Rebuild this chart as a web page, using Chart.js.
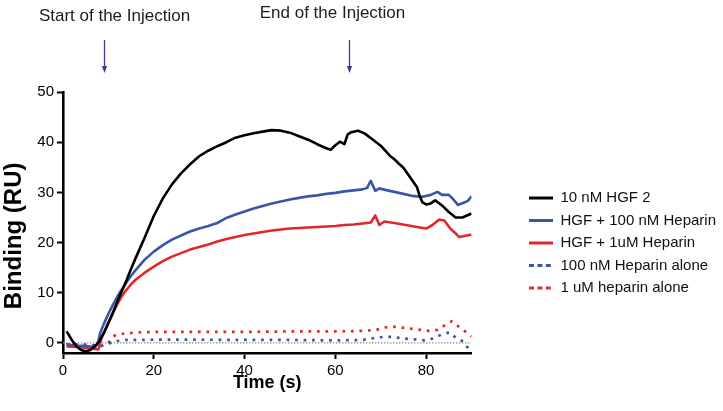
<!DOCTYPE html>
<html>
<head>
<meta charset="utf-8">
<script src="https://cdn.jsdelivr.net/npm/chart.js@4"></script>
<style>
  html, body { margin: 0; padding: 0; background: #ffffff; }
  #wrap { width: 723px; height: 411px; position: relative; }
</style>
</head>
<body>
<div id="wrap"><canvas id="c" width="723" height="411"></canvas></div>
<script>
// ---------- data ----------
const seriesNames = ['10 nM HGF 2', 'HGF + 100 nM Heparin', 'HGF + 1uM Heparin', '100 nM Heparin alone', '1 uM heparin alone'];

const hgfTime   = [0.8, 2, 3, 4, 5, 6, 7, 8, 9, 10, 11, 12, 13, 14, 15, 16, 18, 20, 22, 24, 26, 28, 30, 32, 34, 36, 38, 40, 42, 44, 46, 48, 50, 52, 54, 56, 58, 59, 60, 61, 62, 62.7, 63.5, 65, 66.5, 68, 70, 72, 73, 74, 75, 76, 77, 78, 78.5, 79.2, 80, 81, 82, 83.5, 85, 86.5, 88, 90];
const hgfValues = [2.3, 0.5, -0.7, -1.4, -1.7, -1.4, -0.7, 0.3, 2.0, 4.0, 6.0, 8.3, 10.4, 12.5, 14.8, 16.9, 21.0, 25.3, 28.8, 31.6, 33.8, 35.6, 37.2, 38.3, 39.2, 40.0, 40.9, 41.4, 41.8, 42.1, 42.4, 42.3, 41.9, 41.2, 40.5, 39.6, 38.8, 38.5, 39.4, 40.1, 39.6, 41.5, 42.0, 42.3, 41.7, 40.7, 39.3, 37.3, 36.6, 35.7, 34.9, 33.6, 32.3, 31.0, 29.5, 28.0, 27.6, 27.8, 28.4, 27.4, 26.1, 25.0, 25.0, 25.8];

const hep100Time   = [0.8, 3, 5, 7, 7.6, 8.2, 9, 10, 11, 12, 13, 14, 15, 16, 18, 20, 22, 24, 26, 28, 30, 32, 34, 36, 38, 40, 42, 44, 46, 48, 50, 52, 54, 56, 58, 60, 62, 64, 66, 67, 67.8, 68.8, 69.7, 71, 73, 75, 77, 79, 81, 82.5, 83.5, 85, 86, 87, 88.4, 89.2, 90];
const hep100Values = [-0.3, -0.5, -0.6, -0.8, -0.3, 2.0, 3.8, 5.8, 7.6, 9.3, 10.7, 12.1, 13.4, 14.5, 16.6, 18.2, 19.5, 20.6, 21.4, 22.2, 22.8, 23.3, 23.9, 24.9, 25.6, 26.2, 26.8, 27.3, 27.8, 28.2, 28.6, 28.9, 29.2, 29.4, 29.7, 29.9, 30.2, 30.4, 30.6, 30.9, 32.3, 30.3, 30.8, 30.5, 30.1, 29.7, 29.3, 29.1, 29.5, 30.1, 29.5, 29.5, 28.6, 27.5, 28.0, 28.3, 29.2];

const hep1uTime   = [0.8, 3, 5, 7, 7.8, 8.5, 9, 10, 11, 12, 13, 14, 15, 16, 18, 20, 22, 24, 26, 28, 30, 32, 34, 36, 38, 40, 42, 44, 46, 48, 50, 52, 54, 56, 58, 60, 62, 64, 66, 67.8, 68.8, 69.7, 70.8, 73, 75.5, 78, 80, 81.4, 82.9, 84, 85.4, 86.3, 87.3, 88.4, 90];
const hep1uValues = [-0.7, -0.8, -1.0, -1.2, -1.3, 1.0, 2.0, 4.0, 6.0, 7.8, 9.4, 10.6, 11.7, 12.6, 14.0, 15.2, 16.3, 17.2, 17.9, 18.6, 19.1, 19.6, 20.2, 20.7, 21.1, 21.5, 21.8, 22.1, 22.4, 22.6, 22.8, 22.9, 23.0, 23.1, 23.2, 23.3, 23.5, 23.6, 23.8, 24.0, 25.4, 23.5, 24.2, 23.9, 23.5, 23.1, 22.8, 23.5, 24.6, 24.4, 22.7, 22.0, 21.1, 21.3, 21.6];

const hepAlone100Time   = [0.8, 5, 8.5, 10, 11, 14, 20, 30, 40, 50, 60, 66, 68.7, 70.5, 72.3, 74.2, 76, 77.8, 79.7, 81.5, 83.7, 85.2, 86.7, 88.2, 89.3];
const hepAlone100Values = [-0.3, -0.4, -0.6, -0.2, 0.3, 0.6, 0.65, 0.65, 0.6, 0.6, 0.5, 0.6, 1.0, 1.2, 1.2, 1.0, 0.8, 0.7, 0.5, 0.9, 1.8, 2.1, 0.9, 0.3, -1.1];

const hepAlone1uTime   = [0.8, 3, 5, 7, 8.5, 10, 11, 12, 14, 16, 20, 30, 40, 50, 60, 66, 69, 71.5, 73.3, 75.1, 77, 78.8, 80.6, 82.5, 83.9, 85.6, 87.1, 88.6, 90];
const hepAlone1uValues = [-0.3, -0.4, -0.4, -0.5, -0.6, 0.0, 1.3, 1.7, 1.9, 2.1, 2.2, 2.2, 2.2, 2.3, 2.3, 2.4, 2.6, 3.2, 3.2, 3.0, 2.8, 2.6, 2.4, 2.6, 3.4, 4.3, 3.3, 2.3, 1.3];

const baselineTime   = [0, 90];
const baselineValues = [0, 0];

const xTickValues = [0, 20, 40, 60, 80];
const yTickValues = [0, 10, 20, 30, 40, 50];

const injectionTimes  = [9, 63];
const injectionLabels = ['Start of the Injection', 'End of the Injection'];

// ---------- helpers ----------
const pts = (xs, ys) => xs.map((x, i) => ({ x: x, y: ys[i] }));
const FONT = '"Liberation Sans", Arial, Helvetica, sans-serif';
Chart.defaults.font.family = FONT;
Chart.defaults.color = '#000';

const BLACK = '#000000', BLUE = '#3a56a6', RED = '#e3262c';

const injectionPlugin = {
  id: 'injectionMarks',
  afterDraw(chart, args, opts) {
    const ctx = chart.ctx;
    const xs = chart.scales.x;
    injectionTimes.forEach((t, i) => {
      const px = Math.round(xs.getPixelForValue(t)) + 0.5;
      ctx.save();
      ctx.font = '17px ' + FONT;
      ctx.fillStyle = '#1c1c1c';
      ctx.textAlign = 'center';
      ctx.textBaseline = 'alphabetic';
      ctx.fillText(injectionLabels[i], px + opts.textOffsets[i], opts.textBaselines[i]);
      ctx.strokeStyle = '#3c3c8c';
      ctx.lineWidth = 1.3;
      ctx.beginPath();
      ctx.moveTo(px, 40);
      ctx.lineTo(px, 68);
      ctx.stroke();
      ctx.fillStyle = '#3c3c8c';
      ctx.beginPath();
      ctx.moveTo(px - 2.6, 66);
      ctx.lineTo(px + 2.6, 66);
      ctx.lineTo(px, 73);
      ctx.closePath();
      ctx.fill();
      ctx.restore();
    });
  }
};

// let the right-hand legend be as wide as its longest label
const legendWidthPlugin = {
  id: 'legendWidth',
  beforeLayout(chart) {
    const lg = chart.legend;
    if (lg && !lg._wideWrapped) {
      const orig = lg.update;
      lg.update = function (mw, mh, m) {
        const r = orig.call(this, Math.max(mw, 260), mh, m);
        this.width -= 3;
        return r;
      };
      lg._wideWrapped = true;
    }
  }
};

const solid = (label, data, color) => ({
  label, data, borderColor: color, backgroundColor: color,
  borderWidth: 2.6, pointRadius: 0, tension: 0, borderJoinStyle: 'round', borderCapStyle: 'butt'
});
const dotted = (label, data, color) => ({
  label, data, borderColor: color, backgroundColor: color,
  borderWidth: 2.7, borderDash: [2.7, 5.8], pointRadius: 0, tension: 0
});

new Chart(document.getElementById('c'), {
  type: 'line',
  data: {
    datasets: [
      solid(seriesNames[0], pts(hgfTime, hgfValues), BLACK),
      solid(seriesNames[1], pts(hep100Time, hep100Values), BLUE),
      solid(seriesNames[2], pts(hep1uTime, hep1uValues), RED),
      dotted(seriesNames[3], pts(hepAlone100Time, hepAlone100Values), BLUE),
      dotted(seriesNames[4], pts(hepAlone1uTime, hepAlone1uValues), RED),
      {
        label: 'baseline', data: pts(baselineTime, baselineValues),
        borderColor: '#8a8a8a', borderWidth: 1.2, borderDash: [1.4, 1.6], pointRadius: 0
      }
    ]
  },
  options: {
    responsive: false,
    animation: false,
    events: [],
    layout: { padding: { top: 92, left: 0, right: 0, bottom: 0 } },
    scales: {
      x: {
        type: 'linear', min: 0, max: 90,
        afterBuildTicks: s => { s.ticks = xTickValues.map(v => ({ value: v })); },
        afterFit: s => { s.height = 58; },
        grid: { display: true, drawOnChartArea: false, drawTicks: true, tickLength: 6, tickWidth: 2, tickColor: '#000' },
        border: { display: true, color: '#000', width: 2.6 },
        ticks: { font: { size: 15 }, color: '#000', padding: 3, maxRotation: 0 },
        title: { display: true, text: 'Time (s)', font: { size: 18, weight: 'bold' }, color: '#000', padding: { top: 0, bottom: 17 } }
      },
      y: {
        type: 'linear', min: -2, max: 50,
        afterBuildTicks: s => { s.ticks = yTickValues.map(v => ({ value: v })); },
        afterFit: s => { s.width = 63; },
        grid: { display: true, drawOnChartArea: false, drawTicks: true, tickLength: 6, tickWidth: 2, tickColor: '#000' },
        border: { display: true, color: '#000', width: 2.6 },
        ticks: { font: { size: 15 }, color: '#000', padding: 3 },
        title: { display: true, text: 'Binding (RU)\u00a0\u00a0\u00a0\u00a0', font: { size: 24, weight: 'bold' }, color: '#000', padding: { top: 0, bottom: 0 } }
      },
      spacer: {
        type: 'linear', position: 'right', display: true,
        afterFit: s => { s.width = 50; },
        grid: { display: false, drawTicks: false },
        border: { display: false },
        ticks: { display: false }
      }
    },
    plugins: {
      legend: {
        display: true,
        position: 'right',
        align: 'start',
        title: { display: true, text: '', font: { size: 10 }, padding: { top: 79, bottom: 0 } },
        labels: {
          usePointStyle: true,
          pointStyle: 'line',
          pointStyleWidth: 24,
          padding: 7.5,
          color: '#111',
          font: { size: 15 },
          filter: item => item.datasetIndex < 5,
          generateLabels: chart => Chart.defaults.plugins.legend.labels.generateLabels(chart).map(item => {
            item.pointStyle = 'line';
            item.lineWidth = 2.8;
            item.lineDash = item.datasetIndex >= 3 ? [5, 3.4] : [];
            return item;
          })
        }
      },
      tooltip: { enabled: false },
      injectionMarks: { textOffsets: [10, -17], textBaselines: [20.5, 18] }
    }
  },
  plugins: [injectionPlugin, legendWidthPlugin]
});
</script>
</body>
</html>
